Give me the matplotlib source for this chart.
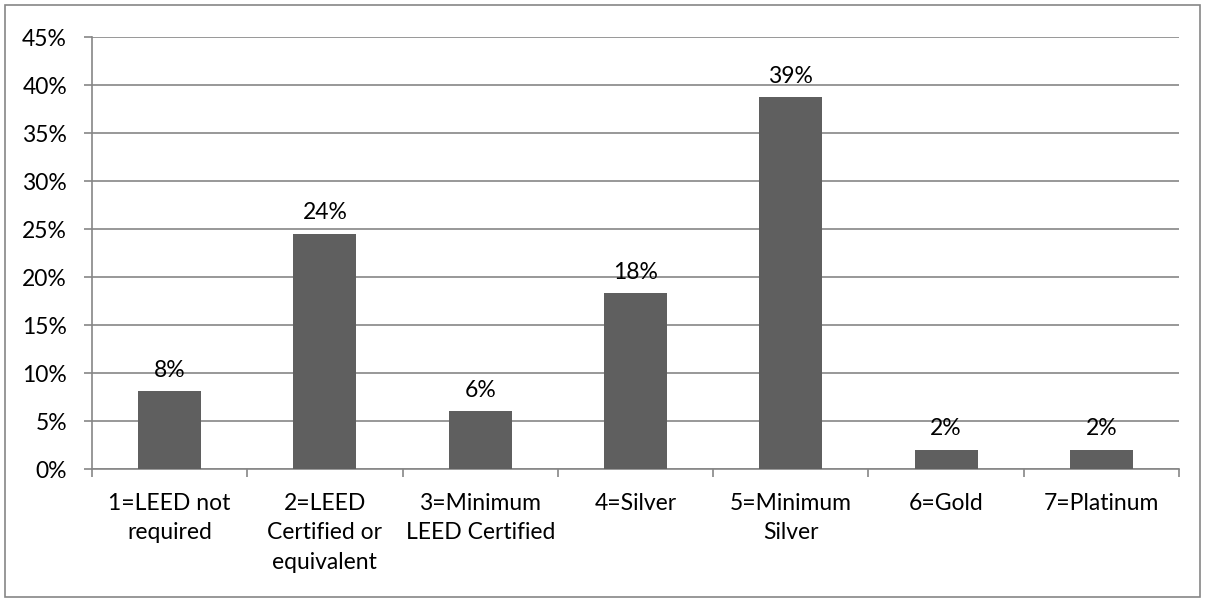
import matplotlib
matplotlib.use("Agg")
import matplotlib.pyplot as plt
from matplotlib.patches import Rectangle
from matplotlib.ticker import MultipleLocator, FuncFormatter

categories = ["1=LEED not\nrequired", "2=LEED\nCertified or\nequivalent", "3=Minimum\nLEED Certified",
              "4=Silver", "5=Minimum\nSilver", "6=Gold", "7=Platinum"]
values = [8.1, 24.5, 6.0, 18.3, 38.7, 2.0, 2.0]
labels = ["8%", "24%", "6%", "18%", "39%", "2%", "2%"]

FS = 16.5
plt.rcParams['font.family'] = ['Lato', 'DejaVu Sans']
fig = plt.figure(figsize=(12.07, 6.01), dpi=100)
ax = fig.add_axes([92/1207, 1-469/601, (1179-92)/1207, (469-37)/601])

x = list(range(len(categories)))
ax.bar(x, values, width=0.405, color='#5f5f5f', zorder=3)
for xi, v, l in zip(x, values, labels):
    ax.text(xi, v + 1.1, l, ha='center', va='bottom', fontsize=FS, color='#000000')

ax.set_xlim(-0.5, len(categories) - 0.5)
ax.set_ylim(0, 45)
ax.yaxis.set_major_locator(MultipleLocator(5))
ax.yaxis.set_major_formatter(FuncFormatter(lambda v, p: f"{int(round(v))}%"))
ax.grid(axis='y', color='#868686', linewidth=1.2, zorder=0)
ax.set_axisbelow(True)

ax.set_xticks(x)
ax.set_xticklabels(categories, fontsize=FS, linespacing=1.5)
ax.set_xticks([i - 0.5 for i in range(len(categories) + 1)], minor=True)
ax.tick_params(axis='x', which='major', length=0, pad=17)
ax.tick_params(axis='x', which='minor', length=6, color='#868686', width=1.2)
ax.tick_params(axis='y', length=6, color='#868686', width=1.2, labelsize=FS, pad=12)

for s in ['top', 'right']:
    ax.spines[s].set_visible(False)
for s in ['left', 'bottom']:
    ax.spines[s].set_color('#868686')
    ax.spines[s].set_linewidth(1.2)

fig.patches.append(Rectangle((5/1207, 4/601), 1195/1207, 592/601, transform=fig.transFigure,
                             fill=False, edgecolor='#868686', linewidth=1.2))

fig.savefig("out.png", dpi=100)
